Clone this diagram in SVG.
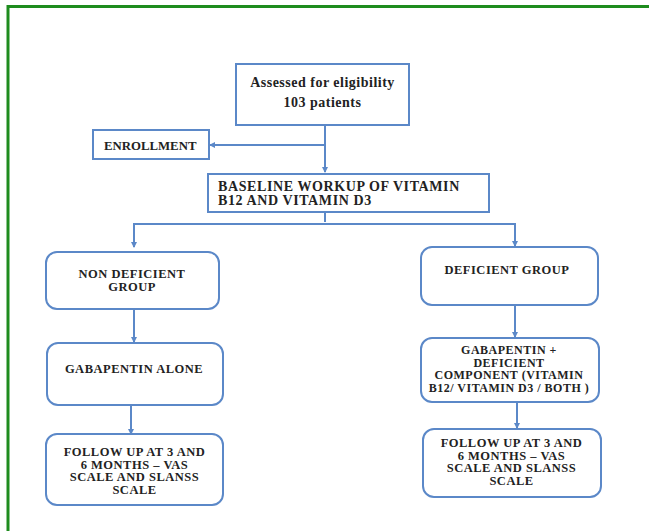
<svg xmlns="http://www.w3.org/2000/svg" width="649" height="531" viewBox="0 0 649 531">
<style>
.box{fill:#fff;stroke:#5b88c8;stroke-width:2}
.ln{fill:none;stroke:#5b88c8;stroke-width:2}
text{font-family:"Liberation Serif","Times New Roman",serif;font-weight:bold;fill:#222;font-size:12.5px;letter-spacing:0.5px}
.c{text-anchor:middle}
</style>
<defs>
<marker id="ah" markerWidth="6" markerHeight="6" refX="5" refY="3" orient="auto" markerUnits="userSpaceOnUse">
<path d="M0,0 L6,3 L0,6 z" fill="#5b88c8"/>
</marker>
</defs>
<rect width="649" height="531" fill="#fff"/>
<path d="M8,531 V6.5 H649" fill="none" stroke="#1e8c1e" stroke-width="3"/>
<g id="connectors">
<path class="ln" d="M325,125 V172" marker-end="url(#ah)"/>
<path class="ln" d="M325,145 H210" marker-end="url(#ah)"/>
<path class="ln" d="M325,212 V222"/>
<path class="ln" d="M134,224 H515"/>
<path class="ln" d="M134,223 V247" marker-end="url(#ah)"/>
<path class="ln" d="M515,223 V246" marker-end="url(#ah)"/>
<path class="ln" d="M134,309 V342" marker-end="url(#ah)"/>
<path class="ln" d="M131,405 V434" marker-end="url(#ah)"/>
<path class="ln" d="M515,305 V337" marker-end="url(#ah)"/>
<path class="ln" d="M517,402 V428" marker-end="url(#ah)"/>
</g>
<g id="assessed">
<rect class="box" x="236" y="64" width="173" height="61"/>
<text class="c" x="322.5" y="87" style="font-size:14px">Assessed for eligibility</text>
<text class="c" x="322.5" y="107" style="font-size:14px">103 patients</text>
</g>
<g id="enrollment">
<rect class="box" x="93" y="130" width="116" height="29"/>
<text x="104" y="150" style="font-size:12.8px;letter-spacing:0">ENROLLMENT</text>
</g>
<g id="baseline">
<rect class="box" x="208" y="174" width="281" height="38"/>
<text x="218" y="191" style="font-size:14px;letter-spacing:0.6px">BASELINE WORKUP OF VITAMIN</text>
<text x="218" y="205" style="font-size:14px;letter-spacing:0.6px">B12 AND VITAMIN D3</text>
</g>
<g id="nondeficient">
<rect class="box" x="46" y="252" width="173" height="57" rx="11"/>
<text class="c" x="132" y="278">NON DEFICIENT</text>
<text class="c" x="132" y="291">GROUP</text>
</g>
<g id="gabapentinalone">
<rect class="box" x="47" y="343" width="176" height="62" rx="11"/>
<text class="c" x="134" y="373">GABAPENTIN ALONE</text>
</g>
<g id="followupleft">
<rect class="box" x="46" y="434" width="177" height="71" rx="11"/>
<text class="c" x="134.5" y="456">FOLLOW UP AT 3 AND</text>
<text class="c" x="134.5" y="468.5">6 MONTHS – VAS</text>
<text class="c" x="134.5" y="481">SCALE AND SLANSS</text>
<text class="c" x="134.5" y="493.5">SCALE</text>
</g>
<g id="deficient">
<rect class="box" x="421" y="247" width="177" height="58" rx="11"/>
<text class="c" x="507" y="274">DEFICIENT GROUP</text>
</g>
<g id="gabapentinplus">
<rect class="box" x="421" y="338" width="178" height="64" rx="11"/>
<text class="c" x="509" y="354" style="font-size:12px">GABAPENTIN +</text>
<text class="c" x="509" y="366.5" style="font-size:12px">DEFICIENT</text>
<text class="c" x="509" y="379" style="font-size:12px">COMPONENT (VITAMIN</text>
<text class="c" x="509" y="391.5" style="font-size:12px">B12/ VITAMIN D3 / BOTH )</text>
</g>
<g id="followupright">
<rect class="box" x="423" y="429" width="178" height="68" rx="11"/>
<text class="c" x="511.5" y="447">FOLLOW UP AT 3 AND</text>
<text class="c" x="511.5" y="459.5">6 MONTHS – VAS</text>
<text class="c" x="511.5" y="472">SCALE AND SLANSS</text>
<text class="c" x="511.5" y="484.5">SCALE</text>
</g>
</svg>
